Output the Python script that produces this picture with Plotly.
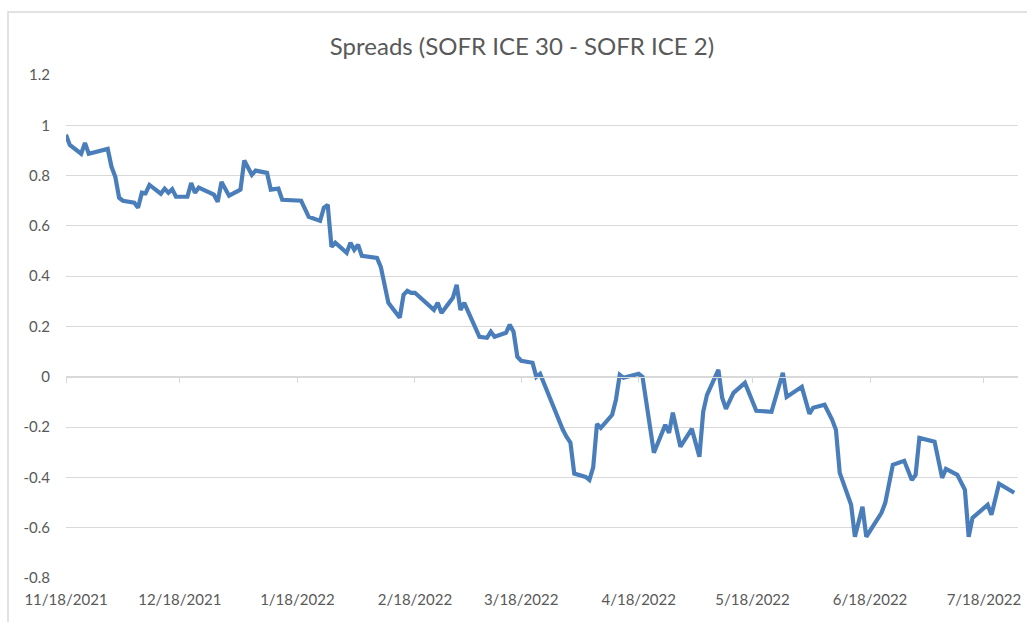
import plotly.graph_objects as go

title_text = "Spreads (SOFR ICE 30 - SOFR ICE 2)"

dates = [
    "2021-11-18", "2021-11-19", "2021-11-22", "2021-11-23", "2021-11-24", "2021-11-26",
    "2021-11-29", "2021-11-30", "2021-12-01", "2021-12-02", "2021-12-03", "2021-12-06",
    "2021-12-07", "2021-12-08", "2021-12-09", "2021-12-10", "2021-12-13", "2021-12-14",
    "2021-12-15", "2021-12-16", "2021-12-17", "2021-12-20", "2021-12-21", "2021-12-22",
    "2021-12-23", "2021-12-27", "2021-12-28", "2021-12-29", "2021-12-31", "2022-01-03",
    "2022-01-04", "2022-01-06", "2022-01-07", "2022-01-10", "2022-01-11", "2022-01-13",
    "2022-01-14", "2022-01-19", "2022-01-21", "2022-01-24", "2022-01-25", "2022-01-26",
    "2022-01-27", "2022-01-28", "2022-01-31", "2022-02-01", "2022-02-02", "2022-02-03",
    "2022-02-04", "2022-02-08", "2022-02-09", "2022-02-11", "2022-02-14", "2022-02-15",
    "2022-02-16", "2022-02-17", "2022-02-18", "2022-02-23", "2022-02-24", "2022-02-25",
    "2022-02-28", "2022-03-01", "2022-03-02", "2022-03-03", "2022-03-07", "2022-03-09",
    "2022-03-10", "2022-03-11", "2022-03-14", "2022-03-15", "2022-03-16", "2022-03-17",
    "2022-03-18", "2022-03-21", "2022-03-22", "2022-03-23", "2022-03-25", "2022-03-29",
    "2022-03-30", "2022-03-31", "2022-04-01", "2022-04-04", "2022-04-05", "2022-04-06",
    "2022-04-07", "2022-04-08", "2022-04-11", "2022-04-12", "2022-04-13", "2022-04-14",
    "2022-04-18", "2022-04-19", "2022-04-22", "2022-04-25", "2022-04-26", "2022-04-27",
    "2022-04-29", "2022-05-02", "2022-05-04", "2022-05-05", "2022-05-06", "2022-05-09",
    "2022-05-10", "2022-05-11", "2022-05-13", "2022-05-16", "2022-05-19", "2022-05-23",
    "2022-05-26", "2022-05-27", "2022-05-31", "2022-06-02", "2022-06-03", "2022-06-06",
    "2022-06-08", "2022-06-09", "2022-06-10", "2022-06-13", "2022-06-14", "2022-06-16",
    "2022-06-17", "2022-06-21", "2022-06-22", "2022-06-24", "2022-06-27", "2022-06-29",
    "2022-06-30", "2022-07-01", "2022-07-05", "2022-07-07", "2022-07-08", "2022-07-11",
    "2022-07-13", "2022-07-14", "2022-07-15", "2022-07-19", "2022-07-20", "2022-07-22",
    "2022-07-26",
]

spreads = [
    0.962, 0.922, 0.887, 0.930, 0.887, 0.895,
    0.906, 0.835, 0.795, 0.712, 0.700, 0.692,
    0.672, 0.732, 0.730, 0.763, 0.728, 0.748,
    0.732, 0.746, 0.716, 0.716, 0.770, 0.732,
    0.752, 0.724, 0.696, 0.775, 0.720, 0.744,
    0.860, 0.803, 0.820, 0.811, 0.744, 0.748,
    0.704, 0.700, 0.636, 0.620, 0.672, 0.684,
    0.517, 0.533, 0.493, 0.533, 0.505, 0.525,
    0.481, 0.473, 0.437, 0.294, 0.235, 0.326,
    0.342, 0.334, 0.334, 0.266, 0.294, 0.254,
    0.314, 0.366, 0.266, 0.294, 0.159, 0.155,
    0.179, 0.159, 0.175, 0.207, 0.179, 0.080,
    0.064, 0.056, 0.000, 0.012, -0.064, -0.211,
    -0.239, -0.262, -0.385, -0.398, -0.410, -0.360,
    -0.187, -0.203, -0.151, -0.091, 0.008, -0.004,
    0.012, 0.000, -0.302, -0.191, -0.223, -0.143,
    -0.278, -0.207, -0.318, -0.139, -0.072, 0.028,
    -0.083, -0.127, -0.064, -0.024, -0.135, -0.139,
    0.016, -0.080, -0.040, -0.147, -0.123, -0.111,
    -0.171, -0.211, -0.382, -0.509, -0.636, -0.517,
    -0.636, -0.541, -0.501, -0.350, -0.334, -0.410,
    -0.390, -0.243, -0.258, -0.402, -0.366, -0.390,
    -0.449, -0.636, -0.561, -0.509, -0.549, -0.425,
    -0.461,
]

x_tick_vals = ["2021-11-18", "2021-12-18", "2022-01-18", "2022-02-18", "2022-03-18",
               "2022-04-18", "2022-05-18", "2022-06-18", "2022-07-18"]
x_tick_text = ["11/18/2021", "12/18/2021", "1/18/2022", "2/18/2022", "3/18/2022",
               "4/18/2022", "5/18/2022", "6/18/2022", "7/18/2022"]
y_tick_vals = [-0.8, -0.6, -0.4, -0.2, 0, 0.2, 0.4, 0.6, 0.8, 1.0, 1.2]
y_tick_text = ["-0.8", "-0.6", "-0.4", "-0.2", "0", "0.2", "0.4", "0.6", "0.8", "1", "1.2"]

x_range = ["2021-11-18", "2022-07-27"]
y_range = [-0.8, 1.2]

LINE = "#4a7ebb"
GRID = "#d9d9d9"
TXT = "#595959"
FONT = "Lato"

fig = go.Figure()
fig.add_trace(go.Scatter(
    x=dates, y=spreads, mode="lines",
    line=dict(color=LINE, width=4.2, shape="linear"),
    showlegend=False, hoverinfo="x+y",
))
# helper trace to carry the zero-crossing category axis (tick marks at y=0)
fig.add_trace(go.Scatter(
    x=dates, y=spreads, mode="lines", xaxis="x2",
    line=dict(color="rgba(0,0,0,0)", width=0),
    showlegend=False, hoverinfo="skip",
))

fig.update_layout(
    width=1027, height=622,
    margin=dict(l=66, r=9, t=75, b=44, autoexpand=False),
    paper_bgcolor="white", plot_bgcolor="white",
    title=dict(text=title_text, x=522 / 1027, xref="container", xanchor="center",
               y=1 - 47 / 622, yref="container", yanchor="middle",
               font=dict(family=FONT, size=24, color=TXT)),
    font=dict(family=FONT, color=TXT),
    xaxis=dict(
        type="date", range=x_range, automargin=False,
        tickmode="array", tickvals=x_tick_vals, ticktext=x_tick_text,
        showgrid=False, zeroline=False, showline=False, ticks="",
        tickfont=dict(family=FONT, size=15, color=TXT),
        ticklabelstandoff=11,
    ),
    xaxis2=dict(
        type="date", overlaying="x", matches="x", anchor="free", automargin=False,
        position=(0 - y_range[0]) / (y_range[1] - y_range[0]),
        tickmode="array", tickvals=x_tick_vals,
        showticklabels=False, showgrid=False, zeroline=False,
        showline=True, linecolor=GRID, linewidth=1,
        ticks="outside", ticklen=5, tickcolor=GRID, tickwidth=1,
    ),
    yaxis=dict(
        range=y_range, automargin=False,
        tickmode="array", tickvals=y_tick_vals, ticktext=y_tick_text,
        showgrid=True, gridcolor=GRID, gridwidth=1,
        zeroline=False, showline=False, ticks="",
        tickfont=dict(family=FONT, size=15, color=TXT),
        ticklabelstandoff=15,
    ),
    shapes=[dict(
        type="rect", xref="paper", yref="paper",
        x0=(8 - 66) / 952, x1=(1035 - 66) / 952,
        y0=(578 - 640) / 503, y1=(578 - 12) / 503,
        line=dict(color=GRID, width=1.5), fillcolor="rgba(0,0,0,0)", layer="below",
    )],
)

fig.write_html(
    "out.html",
    config={"displayModeBar": False},
    post_script="document.body.style.margin='0';document.body.style.overflow='hidden';",
)
